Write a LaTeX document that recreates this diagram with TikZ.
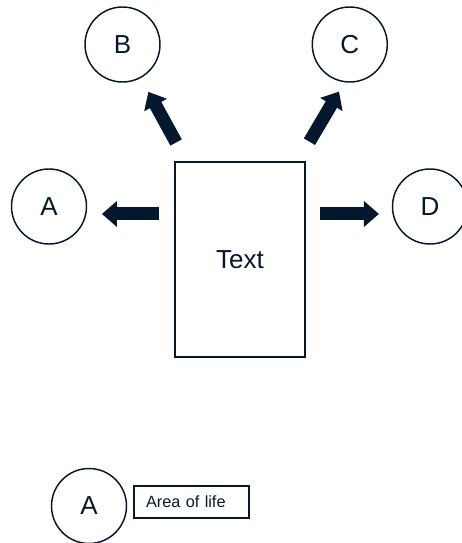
\documentclass[tikz,border=0pt]{standalone}
\usepackage{fontspec}
\setmainfont{Liberation Sans}
\usetikzlibrary{arrows.meta}
\definecolor{navy}{RGB}{4,24,45}
\tikzset{
  ring/.style={circle, draw=navy, line width=1.1pt, minimum size=56.25pt, inner sep=0pt,
    text=navy, font=\fontsize{19.5}{23}\selectfont},
  bigarrow/.style={draw=navy, line width=9.75pt, -{Triangle[length=11.25pt, width=18.75pt]}},
}
\begin{document}
\begin{tikzpicture}[x=0.75pt, y=-0.75pt]
  \useasboundingbox (0,0) rectangle (461,543);

  \foreach \n/\x/\y in {A/49/206.5, B/122.5/44.5, C/349.8/44.5, D/430/206.5}
    \node[ring] (\n) at (\x,\y) {\n};
  \node[draw=navy, line width=1.2pt, minimum width=97.5pt, minimum height=146.25pt,
    text=navy, font=\fontsize{19.5}{23}\selectfont] (txt) at (240,259.5) {Text};

  \draw[bigarrow, shorten <=11.4pt, shorten >=11pt] ([yshift=-5.6pt]A.east -| txt.west) -- ([yshift=-5.6pt]A.east);
  \draw[bigarrow, shorten <=10.7pt, shorten >=9.6pt] ([yshift=-5.6pt]D.west -| txt.east) -- ([yshift=-5.6pt]D.west);
  \draw[bigarrow, shorten <=16pt, shorten >=11.8pt] (txt) -- (B);
  \draw[bigarrow, shorten <=17pt, shorten >=41pt] (txt) -- ([xshift=12.75pt]C.center);

  % key
  \node[ring] (keyA) at (89,506) {A};
  \node[draw=navy, line width=0.8pt, minimum height=24pt, text width=68.25pt, inner xsep=9pt,
    align=left, text=navy, font=\fontsize{12.2}{14}\selectfont] (key) at (191.5,502) {Area of life};
\end{tikzpicture}
\end{document}
